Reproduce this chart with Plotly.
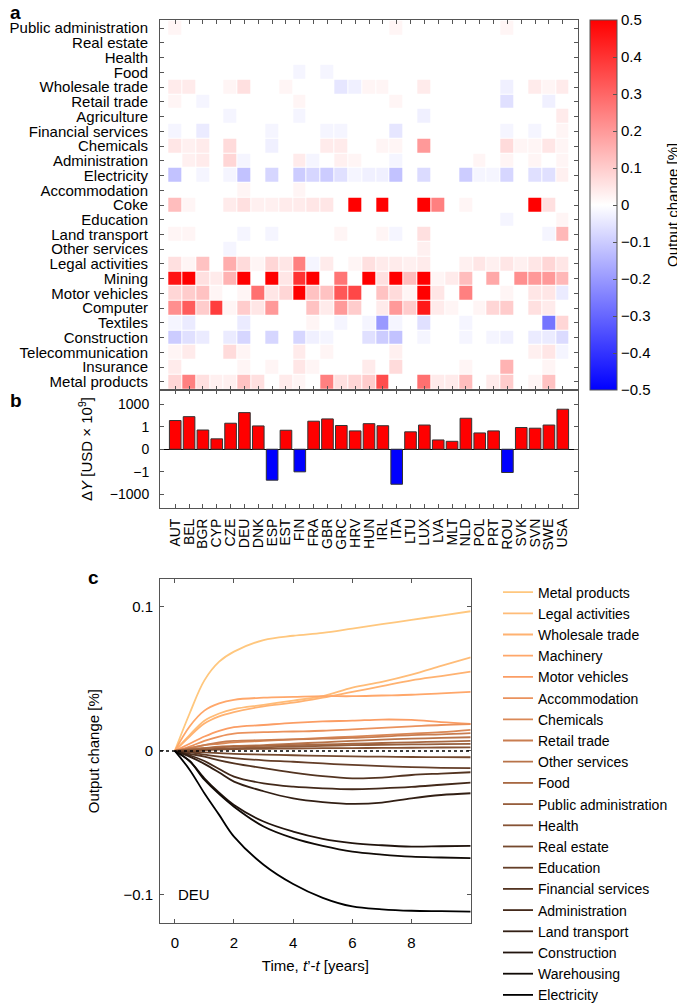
import plotly.graph_objects as go

FONT = "Liberation Sans, Arial, Helvetica, sans-serif"

countries = ["AUT", "BEL", "BGR", "CYP", "CZE", "DEU", "DNK", "ESP", "EST", "FIN",
             "FRA", "GBR", "GRC", "HRV", "HUN", "IRL", "ITA", "LTU", "LUX", "LVA",
             "MLT", "NLD", "POL", "PRT", "ROU", "SVK", "SVN", "SWE", "USA"]

sectors = ["Public administration", "Real estate", "Health", "Food", "Wholesale trade",
           "Retail trade", "Agriculture", "Financial services", "Chemicals", "Administration",
           "Electricity", "Accommodation", "Coke", "Education", "Land transport",
           "Other services", "Legal activities", "Mining", "Motor vehicles", "Computer",
           "Textiles", "Construction", "Telecommunication", "Insurance", "Metal products"]

# output change [%], rows = sectors, columns = countries
heat = [
    [.02, 0, 0, 0, 0, 0, 0, 0, 0, 0, 0, 0, 0, 0, 0, 0, .02, 0, 0, 0, 0, 0, 0, 0, .02, 0, 0, 0, 0],
    [0] * 29,
    [0] * 29,
    [0, 0, 0, 0, 0, 0, 0, 0, 0, -.02, 0, -.02, 0, 0, 0, 0, 0, 0, 0, 0, 0, 0, 0, 0, 0, 0, 0, 0, 0],
    [.04, .04, 0, 0, .02, .06, 0, 0, .02, 0, 0, 0, -.05, -.03, .02, .02, 0, 0, .04, 0, 0, 0, 0, 0, -.03, 0, .04, .02, .04],
    [.02, 0, -.02, 0, 0, 0, 0, 0, 0, .02, 0, 0, 0, 0, 0, 0, .02, 0, 0, 0, 0, 0, 0, 0, -.06, 0, 0, -.03, 0],
    [0, 0, 0, 0, -.02, 0, 0, 0, 0, -.02, 0, 0, 0, 0, 0, 0, 0, 0, -.03, 0, 0, 0, 0, 0, 0, 0, 0, 0, .04],
    [-.02, 0, -.04, 0, 0, 0, 0, -.02, 0, 0, 0, -.02, -.02, 0, 0, 0, -.05, 0, 0, 0, 0, 0, 0, 0, -.02, 0, -.02, 0, .02],
    [.05, .03, .04, 0, .07, 0, 0, -.03, 0, 0, 0, .04, .04, 0, 0, .02, .02, 0, .2, 0, 0, 0, 0, 0, .07, .02, .02, .05, .02],
    [0, .03, .04, 0, .08, -.02, 0, 0, 0, .04, -.02, 0, .03, .02, 0, 0, -.02, 0, 0, 0, 0, 0, .02, 0, .02, 0, .02, 0, .02],
    [-.12, 0, -.02, 0, -.02, -.12, 0, -.08, 0, -.1, -.08, -.1, -.06, -.02, -.03, -.03, -.12, 0, -.07, 0, 0, -.1, -.02, -.02, -.08, 0, -.06, -.06, .03],
    [0, 0, 0, 0, 0, .02, 0, 0, 0, .02, 0, 0, 0, 0, 0, 0, 0, 0, 0, 0, 0, 0, 0, 0, 0, 0, 0, 0, 0],
    [.13, .02, 0, 0, .04, .06, .03, .03, .04, .04, .05, .05, 0, .5, 0, .5, 0, 0, .5, .25, 0, .02, 0, 0, 0, 0, .5, .06, 0],
    [0, 0, 0, 0, 0, 0, 0, 0, 0, 0, 0, 0, 0, 0, 0, 0, 0, 0, 0, 0, 0, 0, 0, 0, -.02, 0, 0, 0, .02],
    [.02, .02, 0, 0, 0, -.02, 0, -.02, 0, 0, 0, 0, .02, 0, 0, .02, -.02, 0, .06, 0, 0, 0, 0, 0, 0, 0, 0, -.02, .14],
    [0, 0, 0, 0, -.02, 0, 0, 0, 0, 0, 0, 0, 0, 0, 0, 0, 0, 0, .03, 0, 0, 0, 0, 0, 0, 0, 0, 0, 0],
    [.06, .02, .12, 0, .16, .07, .02, .08, .05, .25, -.02, .04, 0, .02, .06, .04, .04, .03, .04, 0, 0, .03, .05, .03, .05, .03, .05, .08, .05],
    [.46, .5, .06, .04, .15, .5, 0, .5, .05, .4, .5, 0, .27, 0, .5, .06, .5, .13, .5, .02, .04, .13, 0, .17, 0, .22, .2, .2, .14],
    [.08, .1, .12, .02, 0, .02, .28, .05, .08, .5, .12, .12, .33, .36, 0, .12, .07, .02, .5, .05, 0, .25, 0, 0, .02, 0, .05, .05, -.04],
    [.22, .32, .1, .38, .02, .1, .05, .2, 0, 0, .12, .04, .2, .1, 0, .04, .2, .1, .45, .04, .02, 0, .02, .08, .1, 0, .06, .04, 0],
    [-.02, -.04, 0, 0, 0, -.04, 0, 0, 0, 0, .02, 0, -.02, 0, -.02, -.2, -.02, 0, -.06, 0, 0, -.02, 0, 0, 0, 0, 0, -.27, .08],
    [-.1, -.06, -.04, 0, -.04, -.08, 0, -.08, 0, -.08, -.03, -.02, 0, 0, -.06, -.1, -.12, 0, -.02, 0, 0, -.02, 0, -.02, -.03, 0, -.04, -.04, -.07],
    [.02, .04, 0, 0, .07, .02, 0, 0, 0, .04, 0, .02, 0, 0, 0, 0, .03, 0, 0, 0, 0, 0, 0, 0, 0, 0, .03, .05, -.02],
    [.04, 0, 0, 0, 0, .02, 0, .02, 0, .05, .02, 0, 0, 0, .04, 0, .07, 0, 0, 0, 0, .02, 0, 0, .15, 0, 0, .02, 0],
    [.08, .25, .06, .03, .03, .12, .06, 0, .04, .02, 0, .25, .06, .08, .1, .35, 0, 0, .28, .04, .04, .13, 0, .04, .1, 0, .02, .12, 0],
]

# Delta Y, in the panel's (compressed) axis units
delta_y = [1.27, 1.44, 0.85, 0.46, 1.15, 1.62, 1.03, -1.37, 0.84, -1.0,
           1.24, 1.34, 1.05, 0.81, 1.13, 1.04, -1.55, 0.77, 1.07, 0.41,
           0.35, 1.37, 0.72, 0.81, -1.03, 0.96, 0.93, 1.07, 1.77]
dy_tickvals = [-2, -1, 0, 1, 2]
dy_ticktext = ["\u22121000", "\u22121", "0", "1", "1000"]

cb_tickvals = [-0.5, -0.4, -0.3, -0.2, -0.1, 0, 0.1, 0.2, 0.3, 0.4, 0.5]
cb_ticktext = ["\u22120.5", "\u22120.4", "\u22120.3", "\u22120.2", "\u22120.1", "0",
               "0.1", "0.2", "0.3", "0.4", "0.5"]

# Panel c: DEU output change [%] over time
time_years = [0, 0.5, 1, 1.5, 2, 3, 4, 5, 6, 7, 8, 9, 10]
line_names = ["Metal products", "Legal activities", "Wholesale trade", "Machinery",
              "Motor vehicles", "Accommodation", "Chemicals", "Retail trade",
              "Other services", "Food", "Public administration", "Health", "Real estate",
              "Education", "Financial services", "Administration", "Land transport",
              "Construction", "Warehousing", "Electricity"]
metal_products = [0, 0.026, 0.049, 0.062, 0.069, 0.077, 0.080, 0.082, 0.085, 0.088, 0.091, 0.094, 0.097]
legal_activities = [0, 0.011, 0.021, 0.026, 0.029, 0.032, 0.035, 0.038, 0.044, 0.048, 0.053, 0.059, 0.065]
wholesale_trade = [0, 0.010, 0.019, 0.024, 0.027, 0.031, 0.0335, 0.037, 0.041, 0.045, 0.049, 0.052, 0.055]
machinery = [0, 0.017, 0.028, 0.033, 0.0355, 0.037, 0.0375, 0.038, 0.038, 0.0385, 0.039, 0.040, 0.041]
motor_vehicles = [0, 0.005, 0.010, 0.014, 0.0165, 0.018, 0.0195, 0.0205, 0.021, 0.0218, 0.0215, 0.020, 0.0188]
accommodation = [0, 0.003, 0.007, 0.010, 0.012, 0.013, 0.0135, 0.014, 0.015, 0.016, 0.017, 0.018, 0.0186]
chemicals = [0, 0.002, 0.004, 0.005, 0.006, 0.007, 0.008, 0.009, 0.010, 0.011, 0.012, 0.013, 0.0146]
retail_trade = [0, 0.002, 0.004, 0.006, 0.007, 0.0075, 0.008, 0.0085, 0.009, 0.010, 0.011, 0.0115, 0.0123]
other_services = [0, 0.001, 0.002, 0.003, 0.0035, 0.004, 0.005, 0.006, 0.007, 0.0078, 0.0085, 0.009, 0.0095]
food = [0, 0.001, 0.002, 0.0025, 0.003, 0.0035, 0.004, 0.0045, 0.005, 0.0055, 0.006, 0.0065, 0.007]
public_administration = [0, 0.0005, 0.001, 0.0015, 0.002, 0.0025, 0.003, 0.0035, 0.004, 0.0042, 0.0045, 0.0047, 0.0049]
health = [0, 0.0003, 0.0006, 0.001, 0.0012, 0.0015, 0.0017, 0.0019, 0.002, 0.0021, 0.0022, 0.0024, 0.0025]
real_estate = [0, -0.0005, -0.001, -0.0015, -0.002, -0.0025, -0.003, -0.0035, -0.0038, -0.004, -0.0042, -0.0043, -0.0044]
education = [0, -0.001, -0.0025, -0.004, -0.005, -0.0065, -0.0075, -0.0087, -0.0097, -0.0105, -0.0112, -0.0117, -0.012]
financial_services = [0, -0.002, -0.004, -0.0065, -0.0086, -0.012, -0.015, -0.0175, -0.019, -0.0185, -0.0167, -0.0157, -0.0148]
administration = [0, -0.003, -0.007, -0.0125, -0.0178, -0.0225, -0.0248, -0.026, -0.0266, -0.026, -0.025, -0.0235, -0.022]
land_transport = [0, -0.004, -0.009, -0.015, -0.0213, -0.028, -0.0329, -0.0355, -0.0368, -0.0359, -0.0329, -0.0306, -0.0294]
construction = [0, -0.007, -0.019, -0.029, -0.0375, -0.049, -0.056, -0.061, -0.064, -0.0655, -0.0664, -0.0662, -0.066]
warehousing = [0, -0.007, -0.020, -0.030, -0.0387, -0.0525, -0.0606, -0.066, -0.070, -0.072, -0.0734, -0.074, -0.0745]
electricity = [0, -0.013, -0.0294, -0.0444, -0.0595, -0.079, -0.0924, -0.102, -0.108, -0.110, -0.111, -0.1113, -0.1116]
line_values = [metal_products, legal_activities, wholesale_trade, machinery, motor_vehicles,
               accommodation, chemicals, retail_trade, other_services, food,
               public_administration, health, real_estate, education, financial_services,
               administration, land_transport, construction, warehousing, electricity]

# the page body has an 8 px margin: the figure is sized to fill the rest of the window
OFF = 8
W, H = 685 - OFF, 1007 - OFF


def px_x(p):
    return (p - OFF) / W


def px_y(p):
    return 1 - (p - OFF) / H


def copper(f):
    r = min(1.0, 1.25 * f)
    g = 0.7812 * f
    b = 0.4975 * f
    return f"rgb({int(r*255)},{int(g*255)},{int(b*255)})"


AX = "#555555"
FS = 15
fig = go.Figure()

fig.add_trace(go.Heatmap(
    z=heat, x=list(range(len(countries))), y=list(range(len(sectors))),
    colorscale=[[0, "#0000ff"], [0.5, "#ffffff"], [1, "#ff0000"]],
    zmin=-0.5, zmax=0.5, xgap=1, ygap=1, xaxis="x", yaxis="y", showscale=True,
    colorbar=dict(x=px_x(590), xanchor="left", y=px_y(20), yanchor="top", xpad=0, ypad=0,
                  len=370 / H, lenmode="fraction", thickness=27, thicknessmode="pixels",
                  outlinewidth=1, outlinecolor=AX, tickvals=cb_tickvals, ticktext=cb_ticktext,
                  ticks="inside", ticklen=4, tickcolor=AX,
                  tickfont=dict(size=FS, color="black", family=FONT)),
    hoverinfo="skip"))

fig.add_trace(go.Bar(
    x=list(range(len(countries))), y=delta_y,
    marker=dict(color=["#ff0000" if v > 0 else "#0000ff" for v in delta_y],
                line=dict(color="#333333", width=1)),
    width=0.84, xaxis="x2", yaxis="y2", showlegend=False))

n = len(line_names)
for i, (name, vals) in enumerate(zip(line_names, line_values)):
    fig.add_trace(go.Scatter(
        x=time_years, y=vals, mode="lines", name=name,
        line=dict(color=copper(1 - i / (n - 1)), width=1.8, shape="spline", smoothing=1.0),
        xaxis="x3", yaxis="y3"))

tickfont = dict(size=FS, color="black", family=FONT)
common = dict(showline=True, linecolor=AX, linewidth=1, ticks="inside", ticklen=4,
              tickcolor=AX, mirror="ticks", showgrid=False, zeroline=False, tickfont=tickfont)
tfont = dict(size=FS, color="black", family=FONT)

fig.update_layout(
    width=W, height=H, autosize=False,
    margin=dict(l=0, r=0, t=0, b=0, autoexpand=False),
    paper_bgcolor="white", plot_bgcolor="white",
    font=dict(family=FONT, size=FS, color="black"),
    xaxis=dict(domain=[px_x(160), px_x(578)], anchor="y", range=[-1.1, 29.1],
               tickvals=list(range(29)), showticklabels=False, **common),
    yaxis=dict(domain=[px_y(390), px_y(20)], anchor="x", range=[24.55, -0.55],
               tickvals=list(range(25)), ticktext=sectors, ticklabelstandoff=8, **common),
    xaxis2=dict(domain=[px_x(160), px_x(578)], anchor="y2", range=[-1.1, 29.1],
                tickvals=list(range(29)), ticktext=countries, tickangle=-90, ticklabelstandoff=4,
                **{**common, "tickfont": dict(size=14, color="black", family=FONT)}),
    yaxis2=dict(domain=[px_y(508), px_y(390)], anchor="x2", range=[-2.6, 2.62],
                tickvals=dy_tickvals, ticktext=dy_ticktext, ticklabelstandoff=7,
                title=dict(text="\u0394<i>Y</i> [USD \u00d7 10<sup>9</sup>]", standoff=13, font=tfont),
                **{**common, "zeroline": True, "zerolinecolor": "black", "zerolinewidth": 1,
                   "tickfont": dict(size=14, color="black", family=FONT)}),
    xaxis3=dict(domain=[px_x(160), px_x(470.7)], anchor="y3", range=[-0.5, 10],
                tickvals=[0, 2, 4, 6, 8], ticklabelstandoff=6,
                title=dict(text="Time, <i>t</i>\u2019-<i>t</i> [years]", standoff=10, font=tfont),
                **common),
    yaxis3=dict(domain=[px_y(923.3), px_y(579)], anchor="x3", range=[-0.1197, 0.1194],
                tickvals=[-0.1, 0, 0.1], ticktext=["\u22120.1", "0", "0.1"], ticklabelstandoff=3,
                title=dict(text="Output change [%]", standoff=20, font=tfont),
                **common),
    legend=dict(x=px_x(498), y=px_y(576.5), xanchor="left", yanchor="top",
                bgcolor="rgba(0,0,0,0)", font=dict(size=14, color="black", family=FONT),
                traceorder="normal"),
    shapes=[dict(type="line", xref="x3 domain", yref="y3", x0=0, x1=1, y0=0, y1=0,
                 line=dict(color="black", width=1.5, dash="dot"), layer="above")],
    annotations=[
        dict(text="<b>a</b>", x=px_x(8), y=px_y(0), xref="paper", yref="paper",
             xanchor="left", yanchor="top", showarrow=False, font=dict(size=19, family=FONT)),
        dict(text="<b>b</b>", x=px_x(8), y=px_y(388), xref="paper", yref="paper",
             xanchor="left", yanchor="top", showarrow=False, font=dict(size=19, family=FONT)),
        dict(text="<b>c</b>", x=px_x(86), y=px_y(565), xref="paper", yref="paper",
             xanchor="left", yanchor="top", showarrow=False, font=dict(size=19, family=FONT)),
        dict(text="DEU", x=0.05, y=-0.1, xref="x3", yref="y3", xanchor="left",
             yanchor="middle", showarrow=False, font=dict(size=FS, family=FONT)),
        dict(text="Output change [%]", x=px_x(672), y=px_y(205), xref="paper", yref="paper",
             xanchor="center", yanchor="middle", textangle=-90, showarrow=False, font=tfont),
    ],
)

fig.write_html("out.html")
